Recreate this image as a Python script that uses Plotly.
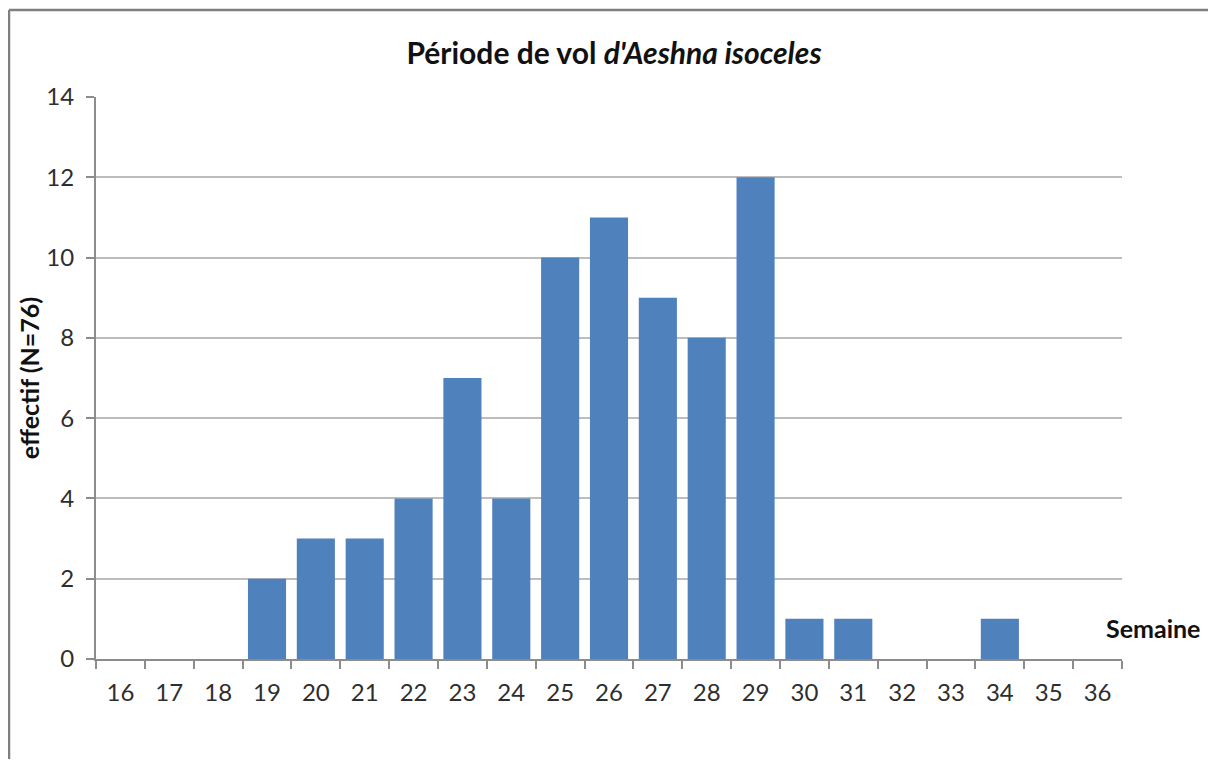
import plotly.graph_objects as go

semaines = [str(w) for w in range(16, 37)]
effectifs = [0, 0, 0, 2, 3, 3, 4, 7, 4, 10, 11, 9, 8, 12, 1, 1, 0, 0, 1, 0, 0]
y_ticks = [0, 2, 4, 6, 8, 10, 12, 14]

FONT = "Lato"
W, H = 1208, 751
L, T, PW, PH = 88, 89, 1026, 562
fig = go.Figure()
fig.add_trace(go.Bar(x=semaines, y=effectifs, marker=dict(color="#4f81bd", line=dict(width=0)),
                     hoverinfo="x+y"))

fig.update_layout(
    width=W, height=H,
    margin=dict(l=L, r=W - L - PW, t=T, b=H - T - PH),
    paper_bgcolor="white", plot_bgcolor="white",
    bargap=0.22,
    showlegend=False,
    font=dict(family=FONT, size=24, color="#262626"),
    title=dict(text="<b>Période de vol <i>d'Aeshna isoceles</i></b>", x=(614 - 8 - L) / PW, xref="paper",
               xanchor="center", y=1 - 45 / H, yanchor="middle",
               font=dict(family=FONT, size=30, color="#111111")),
    xaxis=dict(type="category", showgrid=False, showline=True, linecolor="#8c8c8c", linewidth=2,
               ticks="outside", tickson="boundaries", ticklen=8, tickcolor="#8c8c8c", tickwidth=1.5,
               ticklabelstandoff=11, tickfont=dict(size=24, color="#2e2e2e")),
    yaxis=dict(range=[0, 14], tickvals=y_ticks, showgrid=True, gridcolor="#bdbdbd", gridwidth=1.5,
               showline=True, linecolor="#8c8c8c", linewidth=2, ticks="outside", ticklen=8,
               tickcolor="#8c8c8c", tickwidth=1.5, zeroline=False, ticklabelstandoff=7,
               tickfont=dict(size=24, color="#2e2e2e"),
               title=dict(text="<b>effectif (N=76)</b>", font=dict(size=25, color="#111111"), standoff=0)),
    shapes=[
        dict(type="line", xref="paper", yref="paper", x0=(1 - L) / PW, x1=(W - L) / PW,
             y0=1 + (T - 2) / PH, y1=1 + (T - 2) / PH, line=dict(color="#7f7f7f", width=2.5), layer="below"),
        dict(type="line", xref="paper", yref="paper", x0=(1 - L) / PW, x1=(1 - L) / PW,
             y0=1 + (T - 2) / PH, y1=-(H - T - PH) / PH, line=dict(color="#7f7f7f", width=2.5), layer="below"),
    ],
    annotations=[dict(text="<b>Semaine</b>", xref="paper", yref="paper", x=(1153 - 8 - L) / PW,
                      y=(659 - 628) / PH, xanchor="center", yanchor="middle", showarrow=False,
                      font=dict(family=FONT, size=25, color="#111111"))],
)

fig.write_html("out.html")
